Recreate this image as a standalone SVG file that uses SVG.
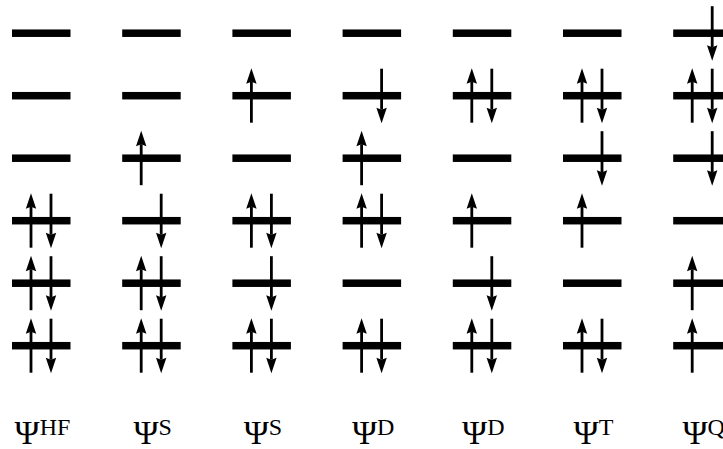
<svg xmlns="http://www.w3.org/2000/svg" xmlns:xlink="http://www.w3.org/1999/xlink" width="723" height="449" viewBox="0 0 723 449">
<style>
.lv{fill:#000}
.ln{stroke:#000;stroke-width:2.8;fill:none}
.hd{fill:#000}
.lb{font-family:"Liberation Serif","Times New Roman",serif;fill:#000}
.psi{font-size:34px}
.sup{font-size:24px}
</style>
<defs>
<rect id="bar" class="lv" x="0" y="-3.75" width="58.5" height="7.5"/>
<g id="up"><line class="ln" x1="0" y1="27" x2="0" y2="-14"/><path class="hd" d="M0,-27.5 L5.2,-12 L0,-14 L-5.2,-12 Z"/></g>
<g id="dn"><line class="ln" x1="0" y1="-27" x2="0" y2="14"/><path class="hd" d="M0,27.5 L5.2,12 L0,14 L-5.2,12 Z"/></g>
</defs>
<g id="col-HF" transform="translate(12,0)">
<use xlink:href="#bar" y="33.2"/><use xlink:href="#bar" y="95.7"/><use xlink:href="#bar" y="158.2"/><use xlink:href="#bar" y="220.7"/><use xlink:href="#bar" y="283.2"/><use xlink:href="#bar" y="345.7"/>
<use xlink:href="#up" x="19" y="220.7"/><use xlink:href="#dn" x="39" y="220.7"/>
<use xlink:href="#up" x="19" y="283.2"/><use xlink:href="#dn" x="39" y="283.2"/>
<use xlink:href="#up" x="19" y="345.7"/><use xlink:href="#dn" x="39" y="345.7"/>
<text class="lb" x="30.5" y="444" text-anchor="middle"><tspan class="psi">Ψ</tspan><tspan class="sup" dy="-9">HF</tspan></text>
</g>
<g id="col-S1" transform="translate(122.2,0)">
<use xlink:href="#bar" y="33.2"/><use xlink:href="#bar" y="95.7"/><use xlink:href="#bar" y="158.2"/><use xlink:href="#bar" y="220.7"/><use xlink:href="#bar" y="283.2"/><use xlink:href="#bar" y="345.7"/>
<use xlink:href="#up" x="19" y="158.2"/>
<use xlink:href="#dn" x="39" y="220.7"/>
<use xlink:href="#up" x="19" y="283.2"/><use xlink:href="#dn" x="39" y="283.2"/>
<use xlink:href="#up" x="19" y="345.7"/><use xlink:href="#dn" x="39" y="345.7"/>
<text class="lb" x="30.5" y="444" text-anchor="middle"><tspan class="psi">Ψ</tspan><tspan class="sup" dy="-9">S</tspan></text>
</g>
<g id="col-S2" transform="translate(232.4,0)">
<use xlink:href="#bar" y="33.2"/><use xlink:href="#bar" y="95.7"/><use xlink:href="#bar" y="158.2"/><use xlink:href="#bar" y="220.7"/><use xlink:href="#bar" y="283.2"/><use xlink:href="#bar" y="345.7"/>
<use xlink:href="#up" x="19" y="95.7"/>
<use xlink:href="#up" x="19" y="220.7"/><use xlink:href="#dn" x="39" y="220.7"/>
<use xlink:href="#dn" x="39" y="283.2"/>
<use xlink:href="#up" x="19" y="345.7"/><use xlink:href="#dn" x="39" y="345.7"/>
<text class="lb" x="30.5" y="444" text-anchor="middle"><tspan class="psi">Ψ</tspan><tspan class="sup" dy="-9">S</tspan></text>
</g>
<g id="col-D1" transform="translate(342.6,0)">
<use xlink:href="#bar" y="33.2"/><use xlink:href="#bar" y="95.7"/><use xlink:href="#bar" y="158.2"/><use xlink:href="#bar" y="220.7"/><use xlink:href="#bar" y="283.2"/><use xlink:href="#bar" y="345.7"/>
<use xlink:href="#dn" x="39" y="95.7"/>
<use xlink:href="#up" x="19" y="158.2"/>
<use xlink:href="#up" x="19" y="220.7"/><use xlink:href="#dn" x="39" y="220.7"/>
<use xlink:href="#up" x="19" y="345.7"/><use xlink:href="#dn" x="39" y="345.7"/>
<text class="lb" x="30.5" y="444" text-anchor="middle"><tspan class="psi">Ψ</tspan><tspan class="sup" dy="-9">D</tspan></text>
</g>
<g id="col-D2" transform="translate(452.8,0)">
<use xlink:href="#bar" y="33.2"/><use xlink:href="#bar" y="95.7"/><use xlink:href="#bar" y="158.2"/><use xlink:href="#bar" y="220.7"/><use xlink:href="#bar" y="283.2"/><use xlink:href="#bar" y="345.7"/>
<use xlink:href="#up" x="19" y="95.7"/><use xlink:href="#dn" x="39" y="95.7"/>
<use xlink:href="#up" x="19" y="220.7"/>
<use xlink:href="#dn" x="39" y="283.2"/>
<use xlink:href="#up" x="19" y="345.7"/><use xlink:href="#dn" x="39" y="345.7"/>
<text class="lb" x="30.5" y="444" text-anchor="middle"><tspan class="psi">Ψ</tspan><tspan class="sup" dy="-9">D</tspan></text>
</g>
<g id="col-T" transform="translate(563,0)">
<use xlink:href="#bar" y="33.2"/><use xlink:href="#bar" y="95.7"/><use xlink:href="#bar" y="158.2"/><use xlink:href="#bar" y="220.7"/><use xlink:href="#bar" y="283.2"/><use xlink:href="#bar" y="345.7"/>
<use xlink:href="#up" x="19" y="95.7"/><use xlink:href="#dn" x="39" y="95.7"/>
<use xlink:href="#dn" x="39" y="158.2"/>
<use xlink:href="#up" x="19" y="220.7"/>
<use xlink:href="#up" x="19" y="345.7"/><use xlink:href="#dn" x="39" y="345.7"/>
<text class="lb" x="30.5" y="444" text-anchor="middle"><tspan class="psi">Ψ</tspan><tspan class="sup" dy="-9">T</tspan></text>
</g>
<g id="col-Q" transform="translate(673.2,0)">
<use xlink:href="#bar" y="33.2"/><use xlink:href="#bar" y="95.7"/><use xlink:href="#bar" y="158.2"/><use xlink:href="#bar" y="220.7"/><use xlink:href="#bar" y="283.2"/><use xlink:href="#bar" y="345.7"/>
<use xlink:href="#dn" x="39" y="33.2"/>
<use xlink:href="#up" x="19" y="95.7"/><use xlink:href="#dn" x="39" y="95.7"/>
<use xlink:href="#dn" x="39" y="158.2"/>
<use xlink:href="#up" x="19" y="283.2"/>
<use xlink:href="#up" x="19" y="345.7"/>
<text class="lb" x="30.5" y="444" text-anchor="middle"><tspan class="psi">Ψ</tspan><tspan class="sup" dy="-9">Q</tspan></text>
</g>
<g id="connectors"></g>
</svg>
